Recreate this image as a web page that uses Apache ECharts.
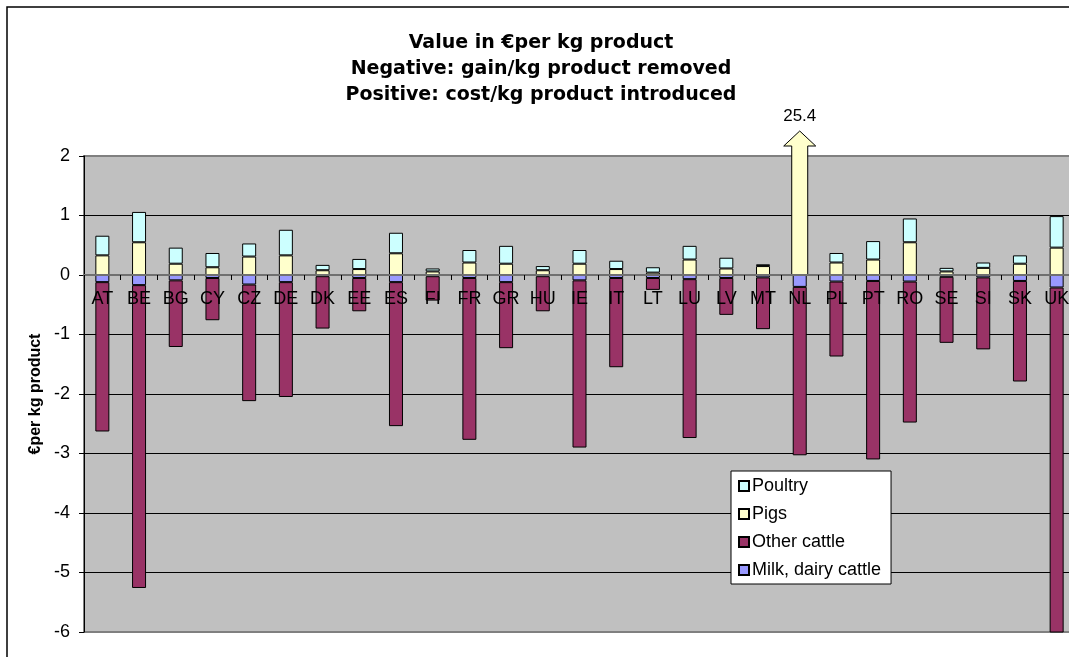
<!DOCTYPE html>
<html>
<head>
<meta charset="utf-8">
<title>Value in €per kg product</title>
<script src="https://cdn.jsdelivr.net/npm/echarts@6/dist/echarts.min.js"></script>
<style>
  html, body { margin: 0; padding: 0; background: #fff; }
  #chart { width: 1069px; height: 657px; }
</style>
</head>
<body>
<div id="chart"></div>
<script>
const countries = ['AT', 'BE', 'BG', 'CY', 'CZ', 'DE', 'DK', 'EE', 'ES', 'FI', 'FR', 'GR', 'HU', 'IE',
  'IT', 'LT', 'LU', 'LV', 'MT', 'NL', 'PL', 'PT', 'RO', 'SE', 'SI', 'SK', 'UK']

// negative side (stacked from 0 downwards)
const milkDairy = [-0.12, -0.17, -0.09, -0.05, -0.16, -0.12, -0.02, -0.05, -0.12, -0.02, -0.05, -0.12, -0.02, -0.09,
  -0.05, -0.05, -0.07, -0.05, -0.04, -0.20, -0.11, -0.10, -0.11, -0.03, -0.04, -0.10, -0.21]
const otherCattle = [-2.51, -5.09, -1.12, -0.71, -1.96, -1.93, -0.88, -0.56, -2.42, -0.41, -2.72, -1.11, -0.59, -2.81,
  -1.50, -0.20, -2.67, -0.62, -0.87, -2.83, -1.26, -3.00, -2.37, -1.11, -1.21, -1.69, -7.00]

// positive side (stacked from 0 upwards)
const pigs = [0.33, 0.55, 0.19, 0.13, 0.31, 0.33, 0.08, 0.10, 0.365, 0.06, 0.21, 0.19, 0.08, 0.19,
  0.10, 0.04, 0.26, 0.11, 0.15, 25.4, 0.21, 0.26, 0.55, 0.06, 0.12, 0.19, 0.46]
const poultry = [0.33, 0.51, 0.27, 0.24, 0.22, 0.43, 0.09, 0.17, 0.345, 0.05, 0.21, 0.30, 0.07, 0.23,
  0.14, 0.09, 0.23, 0.18, 0.03, 0, 0.16, 0.31, 0.40, 0.06, 0.09, 0.14, 0.53]

const yMin = -6
const yMax = 2
const titleLines = ['Value in €per kg product', 'Negative: gain/kg product removed', 'Positive: cost/kg product introduced']
const yAxisName = '€per kg product'

const colors = {
  poultry: '#CCFFFF',
  pigs: '#FFFFCC',
  other: '#993366',
  milk: '#9999FF'
}

// plot area in px; the category axis is lifted from the bottom edge up to the zero line
const gridTop = 156
const gridBottom = 632
const zeroOffset = -(gridBottom - gridTop) * (0 - yMin) / (yMax - yMin)

// bars that go off the top of the scale get an arrow with their real value
const offScale = countries
  .map((c, i) => [i, pigs[i]])
  .filter(d => d[1] > yMax)

const barSeries = (name, data, color) => ({
  name,
  type: 'bar',
  stack: 'total',
  data,
  barWidth: 14,
  itemStyle: {
    color,
    borderColor: '#000',
    borderWidth: 1
  }
})

const renderArrow = (params, api) => {
  const idx = api.value(0)
  const base = api.coord([idx, 0])
  const top = api.coord([idx, yMax])
  const cx = base[0]
  const headBase = top[1] - 10
  const tip = top[1] - 25
  return {
    type: 'group',
    children: [
      {
        type: 'polygon',
        shape: {
          points: [
            [cx - 8, base[1]], [cx - 8, headBase], [cx - 16, headBase], [cx, tip],
            [cx + 16, headBase], [cx + 8, headBase], [cx + 8, base[1]]
          ]
        },
        style: { fill: colors.pigs, stroke: '#000', lineWidth: 1 }
      },
      {
        type: 'text',
        x: cx,
        y: tip - 15,
        style: {
          text: String(api.value(1)),
          fontFamily: 'Liberation Sans, Arial, sans-serif',
          fontSize: 17,
          fill: '#000',
          align: 'center',
          verticalAlign: 'middle'
        }
      }
    ]
  }
}

const chart = echarts.init(document.getElementById('chart'), null, { renderer: 'canvas' })

chart.setOption({
  backgroundColor: '#fff',
  animation: false,
  textStyle: { fontFamily: 'Liberation Sans, Arial, sans-serif' },
  title: {
    text: titleLines.join('\n'),
    left: 541,
    top: 30,
    padding: 0,
    textAlign: 'center',
    textStyle: {
      fontFamily: 'DejaVu Sans, sans-serif',
      fontWeight: 'bold',
      fontSize: 19,
      lineHeight: 26,
      color: '#000'
    }
  },
  graphic: [
    {
      type: 'rect',
      shape: { x: 7, y: 7, width: 1200, height: 800 },
      style: { fill: 'none', stroke: '#000', lineWidth: 1.5 },
      silent: true
    }
  ],
  legend: {
    data: ['Poultry', 'Pigs', 'Other cattle', 'Milk, dairy cattle'],
    orient: 'vertical',
    left: 731,
    top: 471,
    padding: [6, 10, 5, 7],
    icon: 'rect',
    itemWidth: 10,
    itemHeight: 10,
    itemGap: 10,
    backgroundColor: '#fff',
    borderColor: '#000',
    borderWidth: 1,
    borderRadius: 0,
    textStyle: {
      fontFamily: 'Liberation Sans, Arial, sans-serif',
      fontSize: 18,
      color: '#000',
      padding: [0, 0, 0, -2]
    },
    z: 20
  },
  grid: {
    left: 84,
    top: gridTop,
    width: 991,
    height: gridBottom - gridTop,
    show: true,
    backgroundColor: '#C0C0C0',
    borderColor: '#808080',
    borderWidth: 2,
    containLabel: false,
    outerBoundsMode: 'none'
  },
  xAxis: {
    type: 'category',
    data: countries,
    z: 10,
    position: 'bottom',
    offset: zeroOffset,
    axisLine: {
      onZero: false,
      lineStyle: { color: '#707070', width: 2 }
    },
    axisTick: {
      show: true,
      length: 5,
      lineStyle: { color: '#000', width: 1 }
    },
    axisLabel: {
      margin: 15,
      interval: 0,
      fontSize: 18,
      color: '#000'
    },
    splitLine: { show: false }
  },
  yAxis: {
    type: 'value',
    min: yMin,
    max: yMax,
    interval: 1,
    name: yAxisName,
    nameLocation: 'middle',
    nameGap: 40,
    nameTextStyle: {
      fontFamily: 'Liberation Sans, Arial, sans-serif',
      fontWeight: 'bold',
      fontSize: 16,
      color: '#000'
    },
    axisLine: {
      show: true,
      onZero: false,
      lineStyle: { color: '#000', width: 1 }
    },
    axisTick: {
      show: true,
      length: 5,
      lineStyle: { color: '#000' }
    },
    axisLabel: {
      margin: 14,
      fontSize: 18,
      color: '#000'
    },
    splitLine: {
      show: true,
      showMinLine: false,
      showMaxLine: false,
      lineStyle: { color: '#000', width: 1 }
    }
  },
  series: [
    barSeries('Milk, dairy cattle', milkDairy, colors.milk),
    barSeries('Other cattle', otherCattle, colors.other),
    barSeries('Pigs', pigs, colors.pigs),
    barSeries('Poultry', poultry, colors.poultry),
    {
      name: 'off-scale',
      type: 'custom',
      data: offScale,
      clip: false,
      z: 5,
      renderItem: renderArrow
    }
  ]
})
</script>
</body>
</html>
